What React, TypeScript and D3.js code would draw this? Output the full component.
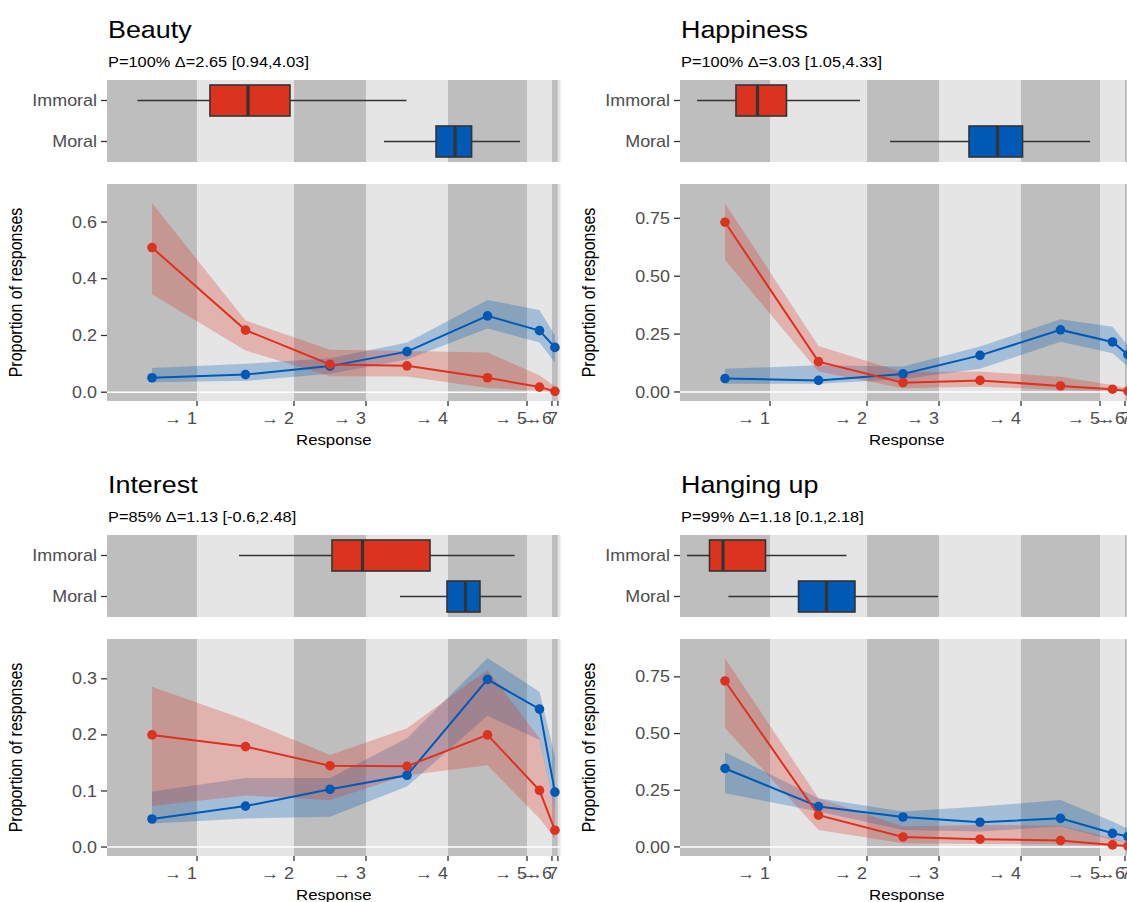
import React from 'react';
import * as d3 from 'd3';

const RED = '#DC3220';
const BLUE = '#005AB5';
const DARK = '#BEBEBE';
const LIGHT = '#E5E5E5';
const FONT = '"Liberation Sans", Arial, sans-serif';
const SX = 1.12;

// latent response scale: thresholds between response categories
const latentDomain = [-1.0, 4.04];
const thresholds = [0, 1.078, 1.878, 2.789, 3.667, 3.944, 4.01];
const thresholdLabels = ['→ 1', '→ 2', '→ 3', '→ 4', '→ 5', '→ 6', '→ 7'];
const groups = ['Immoral', 'Moral'];

const titles = ['Beauty', 'Happiness', 'Interest', 'Hanging up'];
const subtitles = [
  'P=100% Δ=2.65 [0.94,4.03]',
  'P=100% Δ=3.03 [1.05,4.33]',
  'P=85% Δ=1.13 [-0.6,2.48]',
  'P=99% Δ=1.18 [0.1,2.18]',
];

// boxplot stats on latent scale: [whiskerLow, q1, median, q3, whiskerHigh]
const beautyImmoralBox = [-0.661, 0.144, 0.567, 1.033, 2.328];
const beautyMoralBox = [2.078, 2.656, 2.867, 3.051, 3.589];
const happinessImmoralBox = [-0.81, -0.378, -0.139, 0.183, 1.0];
const happinessMoralBox = [1.333, 2.211, 2.528, 2.806, 3.556];
const interestImmoralBox = [0.467, 1.5, 1.839, 2.589, 3.528];
const interestMoralBox = [2.256, 2.778, 2.983, 3.144, 3.606];
const hangingImmoralBox = [-0.922, -0.672, -0.522, -0.05, 0.85];
const hangingMoralBox = [-0.462, 0.317, 0.628, 0.944, 1.867];

// proportions of responses per category 1..7 (mean, lower, upper)
const beautyImmoral = [0.51, 0.219, 0.098, 0.093, 0.051, 0.018, 0.003];
const beautyImmoralLo = [0.345, 0.147, 0.056, 0.055, 0.015, 0.004, 0.0];
const beautyImmoralHi = [0.667, 0.253, 0.15, 0.145, 0.14, 0.06, 0.02];
const beautyMoral = [0.051, 0.062, 0.092, 0.143, 0.269, 0.217, 0.158];
const beautyMoralLo = [0.035, 0.04, 0.065, 0.115, 0.225, 0.175, 0.105];
const beautyMoralHi = [0.085, 0.1, 0.12, 0.175, 0.325, 0.29, 0.2];

const happinessImmoral = [0.733, 0.131, 0.04, 0.05, 0.026, 0.012, 0.004];
const happinessImmoralLo = [0.57, 0.088, 0.016, 0.023, 0.009, 0.003, 0.0];
const happinessImmoralHi = [0.815, 0.199, 0.085, 0.088, 0.066, 0.03, 0.015];
const happinessMoral = [0.058, 0.05, 0.078, 0.158, 0.268, 0.216, 0.161];
const happinessMoralLo = [0.035, 0.035, 0.055, 0.1, 0.217, 0.167, 0.11];
const happinessMoralHi = [0.1, 0.115, 0.11, 0.196, 0.314, 0.282, 0.2];

const interestImmoral = [0.2, 0.179, 0.145, 0.144, 0.2, 0.101, 0.03];
const interestImmoralLo = [0.073, 0.092, 0.084, 0.128, 0.146, 0.051, 0.015];
const interestImmoralHi = [0.286, 0.227, 0.164, 0.212, 0.316, 0.194, 0.066];
const interestMoral = [0.05, 0.073, 0.103, 0.128, 0.299, 0.246, 0.098];
const interestMoralLo = [0.042, 0.051, 0.054, 0.108, 0.234, 0.191, 0.066];
const interestMoralHi = [0.099, 0.123, 0.123, 0.194, 0.337, 0.277, 0.161];

const hangingImmoral = [0.732, 0.14, 0.044, 0.034, 0.028, 0.009, 0.004];
const hangingImmoralLo = [0.524, 0.075, 0.016, 0.013, 0.012, 0.003, 0.0];
const hangingImmoralHi = [0.832, 0.215, 0.09, 0.097, 0.093, 0.038, 0.02];
const hangingMoral = [0.346, 0.178, 0.132, 0.109, 0.126, 0.06, 0.046];
const hangingMoralLo = [0.237, 0.156, 0.075, 0.068, 0.09, 0.031, 0.02];
const hangingMoralHi = [0.418, 0.215, 0.156, 0.178, 0.207, 0.112, 0.08];

const yDomains = [
  [-0.031, 0.734],
  [-0.039, 0.898],
  [-0.016, 0.371],
  [-0.04, 0.917],
];
const yTicks = [
  [0, 0.2, 0.4, 0.6],
  [0, 0.25, 0.5, 0.75],
  [0, 0.1, 0.2, 0.3],
  [0, 0.25, 0.5, 0.75],
];
const yFormats = ['.1f', '.2f', '.1f', '.2f'];

const panels = [
  { box: [beautyImmoralBox, beautyMoralBox], im: [beautyImmoral, beautyImmoralLo, beautyImmoralHi], mo: [beautyMoral, beautyMoralLo, beautyMoralHi] },
  { box: [happinessImmoralBox, happinessMoralBox], im: [happinessImmoral, happinessImmoralLo, happinessImmoralHi], mo: [happinessMoral, happinessMoralLo, happinessMoralHi] },
  { box: [interestImmoralBox, interestMoralBox], im: [interestImmoral, interestImmoralLo, interestImmoralHi], mo: [interestMoral, interestMoralLo, interestMoralHi] },
  { box: [hangingImmoralBox, hangingMoralBox], im: [hangingImmoral, hangingImmoralLo, hangingImmoralHi], mo: [hangingMoral, hangingMoralLo, hangingMoralHi] },
];

function T(props: any) {
  const { x, y, size, anchor = 'start', fill = '#000', rotate = false, dy, children } = props;
  const tr = `translate(${x},${y}) scale(${SX},1)` + (rotate ? ' rotate(-90)' : '');
  return (
    <text transform={tr} fontSize={size} textAnchor={anchor} fill={fill} fontFamily={FONT} dy={dy}>
      {children}
    </text>
  );
}

function Panel({ idx, x0, top }: { idx: number; x0: number; top: number }) {
  const width = 453.6;
  const x = d3.scaleLinear().domain(latentDomain).range([x0, x0 + width]);
  const bounds = [latentDomain[0], ...thresholds, latentDomain[1]];
  const mids = thresholds.map((t, i) => (bounds[i] + bounds[i + 1]) / 2);

  const stripTop = top + 80, stripBot = top + 162;
  const plotTop = top + 184, plotBot = top + 401;
  const yb = d3.scalePoint().domain(groups).range([stripTop, stripBot]).padding(0.5);
  const boxH = 31;
  const y = d3.scaleLinear().domain(yDomains[idx]).range([plotBot, plotTop]);
  const fmt = d3.format(yFormats[idx]);
  const p = panels[idx];

  const bands = bounds.slice(0, -1).map((b, i) => ({ a: b, b: bounds[i + 1], dark: i % 2 === 0 }));

  const mkArea = (lo: number[], hi: number[]) =>
    d3.area<number>().x((_, i) => x(mids[i])).y0((_, i) => y(lo[i])).y1((_, i) => y(hi[i]))(lo) as string;
  const line = d3.line<number>().x((_, i) => x(mids[i])).y((d) => y(d));

  const series = [
    { d: p.mo, c: BLUE },
    { d: p.im, c: RED },
  ];

  return (
    <g>
      <T x={x0 + 1} y={top + 37.5} size={24}>{titles[idx]}</T>
      <T x={x0 + 1} y={top + 66.5} size={14.6}>{subtitles[idx]}</T>

      {/* box strip */}
      {bands.map((bd, i) => (
        <rect key={'sb' + i} x={x(bd.a)} y={stripTop} width={x(bd.b) - x(bd.a)} height={stripBot - stripTop} fill={bd.dark ? DARK : LIGHT} />
      ))}
      {groups.map((g, gi) => {
        const s = p.box[gi];
        const cy = yb(g) as number;
        const col = gi === 0 ? RED : BLUE;
        return (
          <g key={g}>
            <line x1={x0 - 6} x2={x0} y1={cy} y2={cy} stroke="#333" strokeWidth={1.3} />
            <T x={x0 - 10} y={cy} size={16} anchor="end" fill="#4D4D4D" dy="0.35em">{g}</T>
            <line x1={x(s[0])} x2={x(s[1])} y1={cy} y2={cy} stroke="#333" strokeWidth={1.6} />
            <line x1={x(s[3])} x2={x(s[4])} y1={cy} y2={cy} stroke="#333" strokeWidth={1.6} />
            <rect x={x(s[1])} y={cy - boxH / 2} width={x(s[3]) - x(s[1])} height={boxH} fill={col} stroke="#333" strokeWidth={1.6} />
            <line x1={x(s[2])} x2={x(s[2])} y1={cy - boxH / 2} y2={cy + boxH / 2} stroke="#333" strokeWidth={3.2} />
          </g>
        );
      })}

      {/* line plot */}
      {bands.map((bd, i) => (
        <rect key={'pb' + i} x={x(bd.a)} y={plotTop} width={x(bd.b) - x(bd.a)} height={plotBot - plotTop} fill={bd.dark ? DARK : LIGHT} />
      ))}
      <line x1={x0} x2={x0 + width} y1={y(0)} y2={y(0)} stroke="#fff" strokeWidth={1.6} />
      {series.map((s, si) => (
        <path key={'r' + si} d={mkArea(s.d[1], s.d[2])} fill={s.c} fillOpacity={0.28} />
      ))}
      {series.map((s, si) => (
        <g key={'l' + si}>
          <path d={line(s.d[0]) as string} fill="none" stroke={s.c} strokeWidth={2} />
          {s.d[0].map((v, i) => (
            <circle key={i} cx={x(mids[i])} cy={y(v)} r={4.8} fill={s.c} />
          ))}
        </g>
      ))}

      {/* y axis */}
      {yTicks[idx].map((t) => (
        <g key={'yt' + t}>
          <line x1={x0 - 6} x2={x0} y1={y(t)} y2={y(t)} stroke="#333" strokeWidth={1.3} />
          <T x={x0 - 10} y={y(t)} size={16} anchor="end" fill="#4D4D4D" dy="0.35em">{fmt(t)}</T>
        </g>
      ))}
      <T x={x0 - 85} y={(plotTop + plotBot) / 2} size={16} anchor="middle" rotate>Proportion of responses</T>

      {/* x axis */}
      {thresholds.map((t, i) => (
        <g key={'xt' + i}>
          <line x1={x(t)} x2={x(t)} y1={plotBot} y2={plotBot + 5} stroke="#333" strokeWidth={1.3} />
          <T x={x(t)} y={top + 424} size={16} anchor="end" fill="#4D4D4D">{thresholdLabels[i]}</T>
        </g>
      ))}
      <T x={x0 + width / 2} y={top + 445} size={15} anchor="middle">Response</T>
    </g>
  );
}

export default function App() {
  const cols = [107, 680];
  const rows = [0, 455];
  return (
    <svg width={1127} height={902} style={{ position: 'absolute', left: 0, top: 0, background: '#fff' }}>
      <rect x={0} y={0} width={1127} height={902} fill="#fff" />
      {[0, 1, 2, 3].map((i) => (
        <Panel key={i} idx={i} x0={cols[i % 2]} top={rows[Math.floor(i / 2)]} />
      ))}
    </svg>
  );
}
